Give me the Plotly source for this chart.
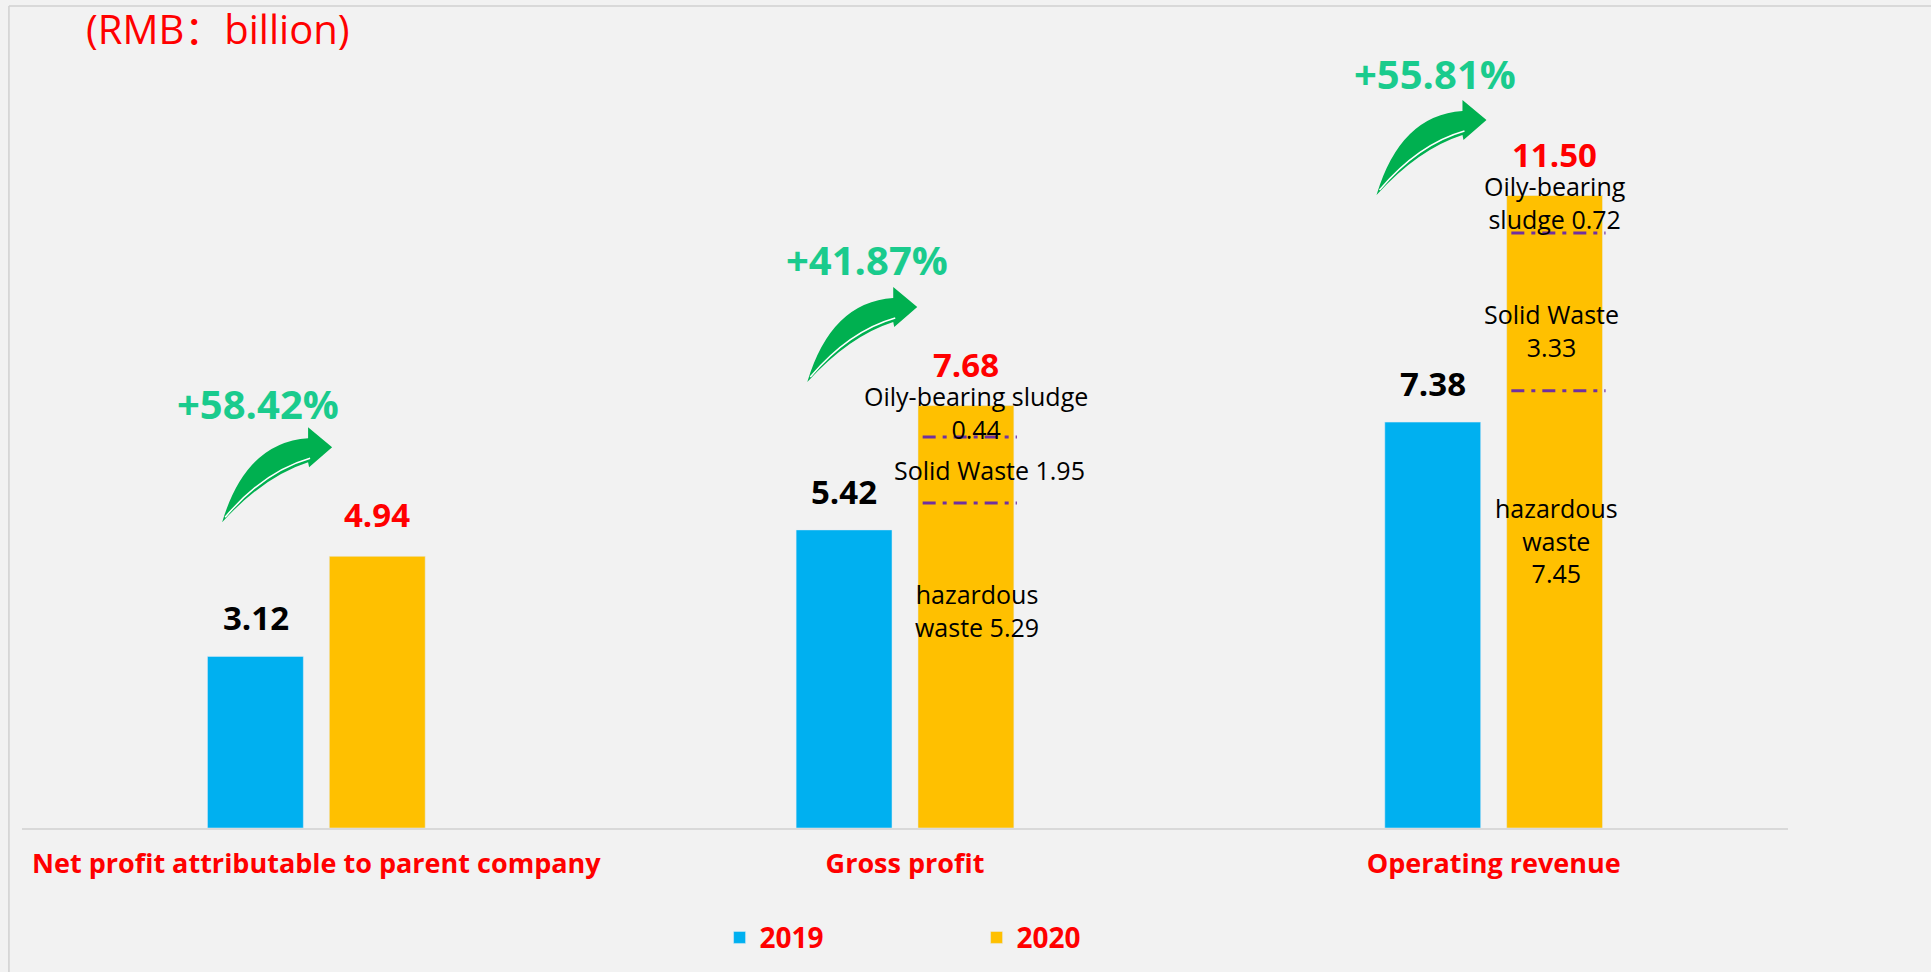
import plotly.graph_objects as go

# data (RMB billion)
categories = ["Net profit attributable to parent company", "Gross profit", "Operating revenue"]
values_2019 = [3.12, 5.42, 7.38]
values_2020 = [4.94, 7.68, 11.50]
growth = ["+58.42%", "+41.87%", "+55.81%"]

# 2020 breakdown by business line (no breakdown for net profit)
hazardous = [None, 5.29, 7.45]
solid = [None, 1.95, 3.33]
oily = [None, 0.44, 0.72]
# dash-dot separators as drawn on the 2020 bars
divider_levels = [[], [5.91, 7.11], [7.95, 10.82]]

BLUE = "#00B0F0"
ORANGE = "#FFC000"
RED = "#FF0000"
GREEN_TXT = "#1ACB8D"
GREEN_ARROW = "#00B050"
FONT = "Open Sans, Noto Sans CJK SC, sans-serif"

PX_X = 589.0   # pixels per category
PX_Y = 55.0    # pixels per billion

x = list(range(len(categories)))

fig = go.Figure()
fig.add_trace(go.Bar(x=x, y=values_2019, name="2019", marker_color=BLUE))
fig.add_trace(go.Bar(x=x, y=values_2020, name="2020", marker_color=ORANGE))

off = 0.103
annotations = []
for i in x:
    annotations.append(dict(x=i - off, y=values_2019[i], text=f"<b>{values_2019[i]:.2f}</b>",
                            showarrow=False, yanchor="bottom", yshift=15, borderpad=0,
                            font=dict(size=33, color="black", family=FONT)))
    annotations.append(dict(x=i + off, y=values_2020[i], text=f"<b>{values_2020[i]:.2f}</b>",
                            showarrow=False, yanchor="bottom", yshift=18, borderpad=0,
                            font=dict(size=33, color=RED, family=FONT)))

# growth labels
growth_pos = [(-0.099, 7.72), (-0.064, 10.34), (-0.100, 13.72)]
for i, (dx, yy) in enumerate(growth_pos):
    annotations.append(dict(x=i + dx, y=yy, text=f"<b>{growth[i]}</b>", showarrow=False,
                            font=dict(size=40, color=GREEN_TXT, family=FONT)))

# breakdown labels
wfont = dict(size=25, color="black", family=FONT)
breakdown = {
    1: [(0.121, 7.55, f"Oily-bearing sludge<br>{oily[1]:.2f}"),
        (0.143, 6.51, f"Solid Waste {solid[1]:.2f}"),
        (0.122, 3.95, f"hazardous<br>waste {hazardous[1]:.2f}")],
    2: [(0.104, 11.37, f"Oily-bearing<br>sludge {oily[2]:.2f}"),
        (0.098, 9.04, f"Solid Waste<br>{solid[2]:.2f}"),
        (0.107, 5.22, f"hazardous<br>waste<br>{hazardous[2]:.2f}")],
}
for i, items in breakdown.items():
    for dx, yy, txt in items:
        annotations.append(dict(x=i + dx, y=yy, text=txt, showarrow=False, borderpad=0, font=wfont))

annotations.append(dict(xref="paper", yref="paper", x=0.035, y=1.0, xanchor="left", yanchor="bottom",
                        yshift=-55, text="(RMB：billion)", showarrow=False,
                        font=dict(size=40, color=RED, family=FONT)))

shapes = []
for i, levels in enumerate(divider_levels):
    for lv in levels:
        shapes.append(dict(type="line", x0=i + 0.03, x1=i + 0.19, y0=lv, y1=lv,
                           line=dict(color="#7030A0", width=3, dash="13px,7px,4px,7px")))


def arrow_path(cx, cy, pts):
    out = []
    for cmd, coords in pts:
        s = " ".join(f"{cx + dx / PX_X:.4f},{cy + dy / PX_Y:.4f}" for dx, dy in coords)
        out.append(cmd + s)
    return " ".join(out) + " Z"


arrow_body = [("M", [(0, 0)]), ("Q", [(24, 80), (86, 84)]), ("L", [(86, 95)]), ("L", [(110, 75)]),
              ("L", [(87, 55)]), ("L", [(86, 60)]), ("Q", [(42, 46), (0, 0)])]
arrow_tails = [(-0.160, 5.56), (-0.166, 8.11), (-0.199, 11.51)]
for i, (dx, yy) in enumerate(arrow_tails):
    shapes.append(dict(type="path", xref="x", yref="y", path=arrow_path(i + dx, yy, arrow_body),
                       fillcolor=GREEN_ARROW, line=dict(width=0)))
    hl = f"M{i + dx + 3 / PX_X:.4f},{yy + 5 / PX_Y:.4f} Q{i + dx + 42 / PX_X:.4f},{yy + 51 / PX_Y:.4f} {i + dx + 88 / PX_X:.4f},{yy + 64 / PX_Y:.4f}"
    shapes.append(dict(type="path", xref="x", yref="y", path=hl, line=dict(color="white", width=1.5)))

# frame lines
shapes.append(dict(type="line", xref="paper", yref="paper", x0=-0.0074, x1=-0.0074, y0=-0.2, y1=0.9964,
                   line=dict(color="#D0D0D0", width=1.5)))
shapes.append(dict(type="line", xref="paper", yref="paper", x0=-0.0074, x1=1.09, y0=0.9964, y1=0.9964,
                   line=dict(color="#D0D0D0", width=1.5)))

fig.update_layout(
    width=1931, height=972,
    margin=dict(l=22, r=143, t=3, b=144),
    paper_bgcolor="#F2F2F2", plot_bgcolor="#F2F2F2",
    barmode="group", bargap=0.586, bargroupgap=0.213,
    showlegend=True,
    legend=dict(orientation="h", x=0.395, y=-0.133, xanchor="left", yanchor="middle",
                entrywidth=212, entrywidthmode="pixels",
                font=dict(size=28, color=RED, family=FONT, weight="bold"),
                bgcolor="rgba(0,0,0,0)"),
    annotations=annotations,
    shapes=shapes,
    font=dict(family=FONT),
)
fig.update_xaxes(range=[-0.5, 2.5], tickvals=x, ticktext=[f"<b>{c}</b>" for c in categories],
                 tickfont=dict(size=27, color=RED, family=FONT), showgrid=False, zeroline=False,
                 showline=True, linecolor="#D9D9D9", linewidth=2, ticks="", ticklabelstandoff=11)
fig.update_yaxes(range=[0, 15], visible=False, showgrid=False)

fig.write_html("out.html", config={"displayModeBar": False},
               post_script="document.body.style.margin='0';document.body.style.background='#F2F2F2';")
